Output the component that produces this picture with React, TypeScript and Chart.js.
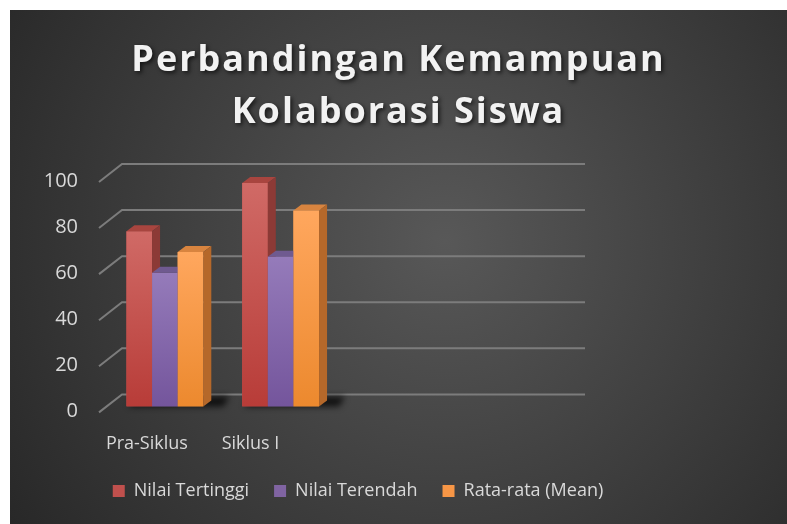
import React, { useEffect, useRef } from 'react';
import { Chart, registerables } from 'chart.js';

Chart.register(...registerables);

const categories = ['Pra-Siklus', 'Siklus I', '', ''];
const nilaiTertinggi = [76, 97, null, null];
const nilaiTerendah = [58, 65, null, null];
const rataRata = [67, 85, null, null];
const seriesNames = ['Nilai Tertinggi', 'Nilai Terendah', 'Rata-rata (Mean)'];
const titleLines = ['Perbandingan Kemampuan', 'Kolaborasi Siswa'];
const yMin = 0;
const yMax = 100;
const yStep = 20;

const FONT = "'Open Sans', 'DejaVu Sans', sans-serif";
const TEXT = '#d9d9d9';
const DEPTH = { dx: 8, dy: 6 };
const BACK = { dx: 15, dy: 12 };
const FRONT = { dx: 8, dy: 6 };

const faces = [
  { legend: '#c0504d', front: ['#d06a66', '#b83c38'], top: '#a8453f', side: '#8c3a36' },
  { legend: '#8064a2', front: ['#957bba', '#74559c'], top: '#6f5a90', side: '#5c4a7c' },
  { legend: '#f79646', front: ['#ffa75e', '#ec892e'], top: '#d8843f', side: '#b5682a' },
];

const bar3dPlugin = {
  id: 'bar3d',
  beforeDraw(chart: any) {
    const { ctx, width, height } = chart;
    ctx.save();
    const g = ctx.createRadialGradient(width * 0.56, height * 0.45, 0, width * 0.56, height * 0.45, width * 0.68);
    g.addColorStop(0, '#585858');
    g.addColorStop(1, '#272727');
    ctx.fillStyle = g;
    ctx.fillRect(0, 0, width, height);
    ctx.restore();

    const tb = chart.titleBlock;
    if (tb && !tb.$spaced) {
      const orig = tb.draw.bind(tb);
      tb.draw = (area: any) => {
        const c = chart.ctx;
        c.save();
        c.letterSpacing = '2px';
        c.shadowColor = 'rgba(0,0,0,0.65)';
        c.shadowBlur = 4;
        c.shadowOffsetX = 2;
        c.shadowOffsetY = 2;
        orig(area);
        c.restore();
      };
      tb.$spaced = true;
    }
  },
  afterLayout(chart: any) {
    const lg = chart.legend;
    if (lg) {
      const dx = 348 - (lg.left + lg.right) / 2;
      lg.left += dx;
      lg.right += dx;
      lg.top -= 25;
      lg.bottom -= 25;
    }
  },
  beforeDatasetsDraw(chart: any) {
    const { ctx, chartArea } = chart;
    const ys = chart.scales.y;
    ctx.save();
    ctx.strokeStyle = '#7c7c7c';
    ctx.lineWidth = 2;
    for (let v = yMin; v <= yMax; v += yStep) {
      const py = ys.getPixelForValue(v);
      ctx.beginPath();
      ctx.moveTo(chartArea.left - FRONT.dx, py + FRONT.dy);
      ctx.lineTo(chartArea.left + BACK.dx, py - BACK.dy);
      ctx.lineTo(chartArea.right + BACK.dx, py - BACK.dy);
      ctx.stroke();
    }
    const n = chart.data.labels.length;
    ctx.filter = 'blur(3px)';
    ctx.fillStyle = 'rgba(0,0,0,0.75)';
    for (let j = 0; j < n; j++) {
      let x0 = Infinity, x1 = -Infinity, base = 0, has = false;
      chart.data.datasets.forEach((ds: any, i: number) => {
        if (ds.data[j] == null) return;
        const el = chart.getDatasetMeta(i).data[j];
        const p = el.getProps(['x', 'width', 'base'], true);
        x0 = Math.min(x0, p.x - p.width / 2);
        x1 = Math.max(x1, p.x + p.width / 2);
        base = p.base;
        has = true;
      });
      if (!has) continue;
      ctx.beginPath();
      ctx.moveTo(x0 + 2, base);
      ctx.lineTo(x1 + DEPTH.dx + 12, base);
      ctx.lineTo(x1 + DEPTH.dx + 18, base - DEPTH.dy - 4);
      ctx.lineTo(x0 + DEPTH.dx + 2, base - DEPTH.dy - 4);
      ctx.closePath();
      ctx.fill();
    }
    ctx.restore();
  },
  afterDatasetsDraw(chart: any) {
    const { ctx } = chart;
    const n = chart.data.labels.length;
    ctx.save();
    for (let j = 0; j < n; j++) {
      chart.data.datasets.forEach((ds: any, i: number) => {
        if (ds.data[j] == null) return;
        const el = chart.getDatasetMeta(i).data[j];
        const { x, y, base, width } = el.getProps(['x', 'y', 'base', 'width'], true);
        const x0 = x - width / 2;
        const x1 = x + width / 2;
        const f = faces[i];
        const g = ctx.createLinearGradient(0, y, 0, base);
        g.addColorStop(0, f.front[0]);
        g.addColorStop(1, f.front[1]);
        ctx.fillStyle = g;
        ctx.fillRect(x0, y, width, base - y);
        ctx.fillStyle = f.top;
        ctx.beginPath();
        ctx.moveTo(x0, y);
        ctx.lineTo(x1, y);
        ctx.lineTo(x1 + DEPTH.dx, y - DEPTH.dy);
        ctx.lineTo(x0 + DEPTH.dx, y - DEPTH.dy);
        ctx.closePath();
        ctx.fill();
        ctx.fillStyle = f.side;
        ctx.beginPath();
        ctx.moveTo(x1, y);
        ctx.lineTo(x1 + DEPTH.dx, y - DEPTH.dy);
        ctx.lineTo(x1 + DEPTH.dx, base - DEPTH.dy);
        ctx.lineTo(x1, base);
        ctx.closePath();
        ctx.fill();
      });
    }
    ctx.restore();
  },
};

export default function App() {
  const ref = useRef<HTMLCanvasElement | null>(null);
  useEffect(() => {
    document.body.style.margin = '0';
    document.body.style.overflow = 'hidden';
    const canvas = ref.current;
    if (!canvas) return;
    const seriesData = [nilaiTertinggi, nilaiTerendah, rataRata];
    const chart = new Chart(canvas, {
      type: 'bar',
      data: {
        labels: categories,
        datasets: seriesNames.map((name, i) => ({
          label: name,
          data: seriesData[i],
          backgroundColor: faces[i].legend,
          borderWidth: 0,
          categoryPercentage: 0.664,
          barPercentage: 1,
        })),
      },
      options: {
        responsive: false,
        animation: false,
        devicePixelRatio: 1,
        layout: { padding: { top: 0, left: 0, right: 0, bottom: -11 } },
        plugins: {
          tooltip: { enabled: false },
          title: {
            display: true,
            text: titleLines,
            color: '#f2f2f2',
            font: { family: FONT, size: 36, weight: 'bold', lineHeight: 52 / 36 },
            padding: { top: 25, bottom: 37 },
          },
          legend: {
            display: true,
            position: 'bottom',
            labels: {
              color: TEXT,
              font: { family: FONT, size: 18 },
              boxWidth: 12,
              boxHeight: 12,
              padding: 25,
            },
          },
        },
        scales: {
          x: {
            grid: { display: false, drawTicks: false },
            border: { display: false },
            ticks: {
              color: TEXT,
              font: { family: FONT, size: 18 },
              padding: 27,
              maxRotation: 0,
              align: 'start',
              labelOffset: -59,
            },
          },
          y: {
            min: yMin,
            max: yMax,
            grid: { display: false, drawTicks: false },
            border: { display: false },
            ticks: { stepSize: yStep, color: TEXT, font: { family: FONT, size: 20 }, padding: 29, labelOffset: 5 },
            afterFit: (s: any) => { s.width = 97; },
          },
          y2: {
            position: 'right',
            grid: { display: false, drawTicks: false },
            border: { display: false },
            ticks: { display: false },
            afterFit: (s: any) => { s.width = 217; },
          },
        },
      },
      plugins: [bar3dPlugin],
    } as any);
    return () => chart.destroy();
  }, []);
  return (
    <div style={{ position: 'absolute', left: 10, top: 10, width: 777, height: 514 }}>
      <canvas ref={ref} width={777} height={514} style={{ display: 'block' }} />
    </div>
  );
}
